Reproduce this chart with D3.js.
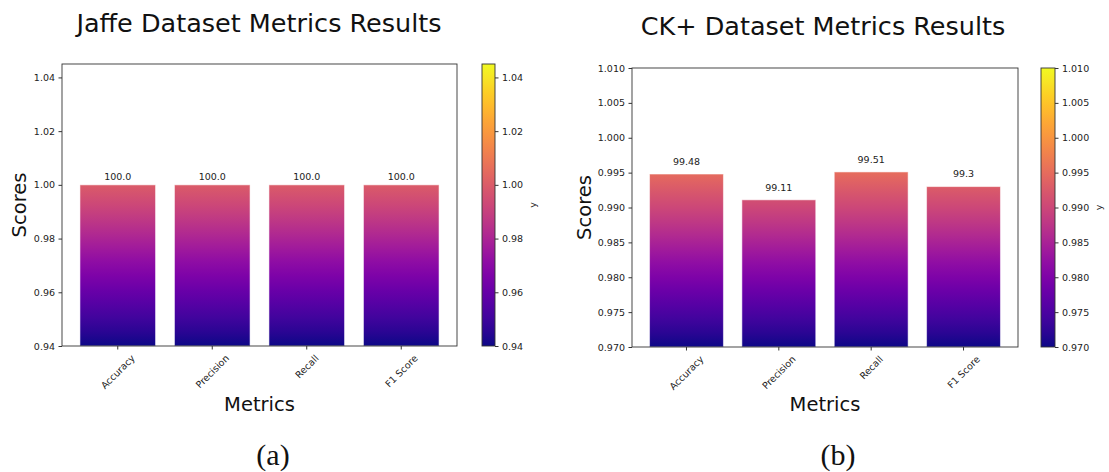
<!DOCTYPE html>
<html>
<head>
<meta charset="utf-8">
<script src="https://cdn.jsdelivr.net/npm/d3@7"></script>
<style>
  body { margin: 0; background: #fff; }
  svg { display: block; font-family: "DejaVu Sans", sans-serif; }
</style>
</head>
<body>
<svg id="chart" width="1109" height="472"></svg>
<script>
// metrics on the x axis (same for both panels)
const metrics = ["Accuracy", "Precision", "Recall", "F1 Score"];

// (a) Jaffe
const jaffeScores = [1.0, 1.0, 1.0, 1.0];
const jaffeLabels = ["100.0", "100.0", "100.0", "100.0"];
const jaffeDomain = [0.94, 1.045];
const jaffeTicks = [0.94, 0.96, 0.98, 1.00, 1.02, 1.04];

// (b) CK+
const ckScores = [0.9948, 0.9911, 0.9951, 0.993];
const ckLabels = ["99.48", "99.11", "99.51", "99.3"];
const ckDomain = [0.97, 1.01];
const ckTicks = [0.970, 0.975, 0.980, 0.985, 0.990, 0.995, 1.000, 1.005, 1.010];

const labelOffset = 0.001; // text sits this far above bar (data units)

const svg = d3.select("#chart");
const defs = svg.append("defs");

function drawPanel(p) {
  const y = d3.scaleLinear().domain(p.domain).range([p.box.y1, p.box.y0]);
  const x = d3.scaleBand()
    .domain(metrics)
    .range([p.box.x0, p.box.x1])
    .paddingInner(0.2)
    .paddingOuter(0.19);

  // plasma gradient in user space, so bar colour follows the y value
  const grad = defs.append("linearGradient")
    .attr("id", p.id + "-grad")
    .attr("gradientUnits", "userSpaceOnUse")
    .attr("x1", 0).attr("x2", 0)
    .attr("y1", y(p.domain[0])).attr("y2", y(p.domain[1]));
  d3.range(0, 1.0001, 0.05).forEach(t => {
    grad.append("stop")
      .attr("offset", t)
      .attr("stop-color", d3.interpolatePlasma(t));
  });

  const g = svg.append("g");

  // bars
  g.selectAll("rect.bar")
    .data(p.values)
    .join("rect")
      .attr("class", "bar")
      .attr("x", (d, i) => x(metrics[i]))
      .attr("width", x.bandwidth())
      .attr("y", d => y(d))
      .attr("height", d => y(p.domain[0]) - y(d))
      .attr("fill", `url(#${p.id}-grad)`)
      .attr("stroke", "rgba(255,255,255,0.55)")
      .attr("stroke-width", 1);

  // value labels
  g.selectAll("text.val")
    .data(p.values)
    .join("text")
      .attr("class", "val")
      .attr("x", (d, i) => x(metrics[i]) + x.bandwidth() / 2)
      .attr("y", d => y(d + labelOffset) - 2.3)
      .attr("text-anchor", "middle")
      .attr("font-size", 9.5)
      .attr("fill", "#222")
      .text((d, i) => p.labels[i]);

  // frame
  g.append("rect")
    .attr("x", p.box.x0).attr("y", p.box.y0)
    .attr("width", p.box.x1 - p.box.x0)
    .attr("height", p.box.y1 - p.box.y0)
    .attr("fill", "none")
    .attr("stroke", "#333")
    .attr("stroke-width", 0.9);

  // y axis
  const yAxis = g.append("g")
    .attr("transform", `translate(${p.box.x0},0)`)
    .call(d3.axisLeft(y).tickValues(p.ticks).tickFormat(d3.format(p.fmt)).tickSize(3.5).tickPadding(3.5));
  yAxis.select(".domain").remove();

  // x axis
  const xAxis = g.append("g")
    .attr("transform", `translate(0,${p.box.y1})`)
    .call(d3.axisBottom(x).tickSize(3.5).tickFormat(""));
  xAxis.select(".domain").remove();

  [yAxis, xAxis].forEach(a => {
    a.selectAll("line").attr("stroke", "#333");
    a.selectAll("text").attr("font-size", 9.5).attr("font-family", "DejaVu Sans").attr("fill", "#222");
  });

  // rotated tick labels, bbox centred under the tick
  const y0 = p.box.y1 + 7;
  g.selectAll("text.xtick")
    .data(metrics)
    .join("text")
      .attr("class", "xtick")
      .attr("font-size", 9.5)
      .attr("fill", "#222")
      .attr("text-anchor", "middle")
      .attr("dominant-baseline", "central")
      .text(d => d)
      .each(function(d) {
        const L = this.getComputedTextLength();
        const h = 9.5;
        const cy = y0 + (L + h) / (2 * Math.SQRT2);
        d3.select(this).attr("transform", `translate(${x(d) + x.bandwidth() / 2},${cy}) rotate(-45)`);
      });

  // colorbar
  g.append("rect")
    .attr("x", p.cbar.x0).attr("y", p.box.y0)
    .attr("width", p.cbar.x1 - p.cbar.x0)
    .attr("height", p.box.y1 - p.box.y0)
    .attr("fill", `url(#${p.id}-grad)`)
    .attr("stroke", "#333")
    .attr("stroke-width", 0.9);

  const cAxis = g.append("g")
    .attr("transform", `translate(${p.cbar.x1},0)`)
    .call(d3.axisRight(y).tickValues(p.ticks).tickFormat(d3.format(p.fmt)).tickSize(3.5).tickPadding(3.5));
  cAxis.select(".domain").remove();
  cAxis.selectAll("line").attr("stroke", "#333");
  cAxis.selectAll("text").attr("font-size", 9.5).attr("font-family", "DejaVu Sans").attr("fill", "#222");

  g.append("text")
    .attr("transform", `translate(${p.cbarLabelX},${(p.box.y0 + p.box.y1) / 2}) rotate(-90)`)
    .attr("text-anchor", "middle")
    .attr("dominant-baseline", "central")
    .attr("font-size", 9.5)
    .attr("fill", "#222")
    .text("y");

  // titles and axis labels
  g.append("text")
    .attr("x", p.titleX).attr("y", p.titleY)
    .attr("text-anchor", "middle")
    .attr("font-size", 25.5)
    .attr("fill", "#111")
    .text(p.title);

  g.append("text")
    .attr("transform", `translate(${p.yLabelX},${(p.box.y0 + p.box.y1) / 2}) rotate(-90)`)
    .attr("text-anchor", "middle")
    .attr("dominant-baseline", "central")
    .attr("font-size", 19.5)
    .attr("fill", "#111")
    .text("Scores");

  g.append("text")
    .attr("x", (p.box.x0 + p.box.x1) / 2).attr("y", 411)
    .attr("text-anchor", "middle")
    .attr("font-size", 19.5)
    .attr("fill", "#111")
    .text("Metrics");

  g.append("text")
    .attr("x", p.capX).attr("y", 465)
    .attr("text-anchor", "middle")
    .attr("font-family", "Liberation Serif, serif")
    .attr("font-size", 30)
    .attr("fill", "#111")
    .text(p.caption);
}

drawPanel({
  id: "jaffe",
  values: jaffeScores, labels: jaffeLabels,
  domain: jaffeDomain, ticks: jaffeTicks, fmt: ".2f",
  box: { x0: 62, x1: 457, y0: 64, y1: 346 },
  cbar: { x0: 482, x1: 495 },
  cbarLabelX: 532,
  title: "Jaffe Dataset Metrics Results", titleX: 259, titleY: 32,
  yLabelX: 19, caption: "(a)", capX: 273
});

drawPanel({
  id: "ck",
  values: ckScores, labels: ckLabels,
  domain: ckDomain, ticks: ckTicks, fmt: ".3f",
  box: { x0: 632, x1: 1018, y0: 68, y1: 347 },
  cbar: { x0: 1041, x1: 1055 },
  cbarLabelX: 1098,
  title: "CK+ Dataset Metrics Results", titleX: 823, titleY: 35,
  yLabelX: 584, caption: "(b)", capX: 838
});
</script>
</body>
</html>
